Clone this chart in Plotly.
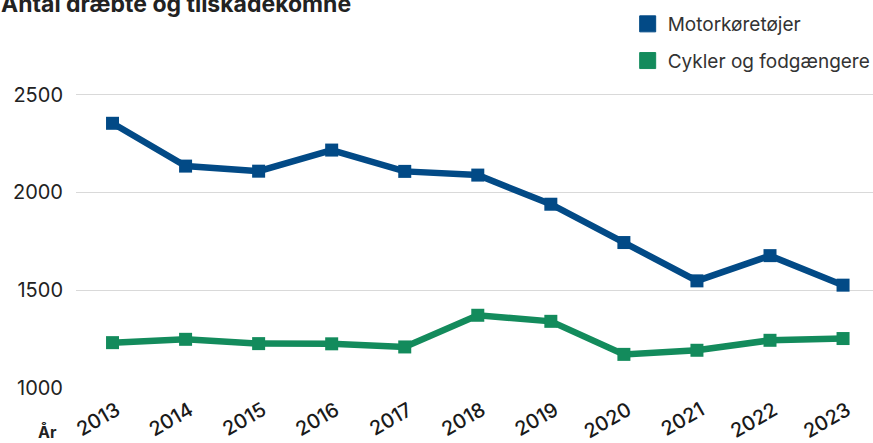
import plotly.graph_objects as go

years = ["2013", "2014", "2015", "2016", "2017", "2018", "2019", "2020", "2021", "2022", "2023"]
motor = [2354, 2135, 2109, 2217, 2108, 2089, 1940, 1744, 1548, 1677, 1526]
cykler = [1232, 1249, 1227, 1226, 1210, 1372, 1341, 1172, 1193, 1244, 1253]
series_names = ["Motorkøretøjer", "Cykler og fodgængere"]
colors = ["#024A86", "#138B5C"]
yticks = [1000, 1500, 2000, 2500]

FONT = "Inter"
W, H = 873, 443
ML, MR, MT, MB = 76, 0, 40, 55
PW, PH = W - ML - MR, H - MT - MB

fig = go.Figure()
for name, vals, col in zip(series_names, [motor, cykler], colors):
    fig.add_trace(go.Scatter(
        x=years, y=vals, mode="lines+markers", name=name, showlegend=False,
        line=dict(color=col, width=6.5),
        marker=dict(symbol="square", size=13, color=col),
        hoverinfo="x+y",
    ))
for i, (name, col) in enumerate(zip(series_names, colors)):
    fig.add_trace(go.Scatter(
        x=[None], y=[None], mode="markers", name=name, showlegend=True,
        legendgroup=f"g{i}",
        marker=dict(symbol="square", size=16, color=col, line=dict(color=col, width=1)),
    ))

fig.update_layout(
    width=W, height=H,
    margin=dict(l=ML, r=MR, t=MT, b=MB, autoexpand=False),
    paper_bgcolor="white", plot_bgcolor="white",
    font=dict(family=FONT, color="#333333"),
    legend=dict(xref="container", yref="container", x=0.719, y=0.9887, xanchor="left", yanchor="top",
                font=dict(family=FONT, size=19, color="#333333"), tracegroupgap=9,
                bgcolor="rgba(0,0,0,0)"),
    xaxis=dict(type="category", range=[-0.5, 10.41], showgrid=False, showline=False, zeroline=False,
               tickangle=-30, tickfont=dict(family=FONT, size=20, color="#1a1a1a", weight=500), ticks="",
               ticklabelshift=4, ticklabelstandoff=6),
    yaxis=dict(range=[1000, 2780], tickvals=yticks, showgrid=True, gridcolor="#d9d9d9", gridwidth=1,
               zeroline=False, showline=False, ticklabelstandoff=12,
               tickfont=dict(family=FONT, size=20, color="#222222")),
    annotations=[
        dict(text="<b>Antal dræbte og tilskadekomne</b>", xref="paper", yref="paper",
             x=(-1 - ML) / PW, y=(388 - 3.5) / PH, xanchor="left", yanchor="middle", showarrow=False,
             font=dict(family=FONT, size=23, color="#222222")),
        dict(text="<b>År</b>", xref="paper", yref="paper", x=(36 - ML) / PW, y=(388 - 431) / PH,
             xanchor="left", yanchor="middle", showarrow=False,
             font=dict(family=FONT, size=16, color="#222222")),
    ],
)
fig.write_html("out.html", config={"displayModeBar": False},
               post_script="document.body.style.margin='0';document.body.style.overflow='hidden';")
